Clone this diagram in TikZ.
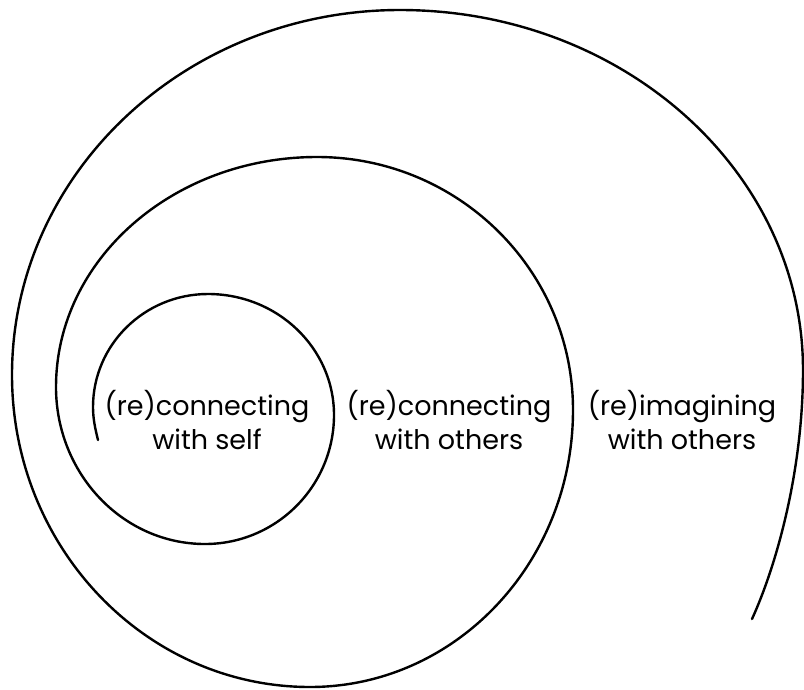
\documentclass[tikz,border=0pt]{standalone}
\usepackage{fontspec}
\setmainfont{Poppins}
\begin{document}
\begin{tikzpicture}[x=1pt,y=-1pt,
  spiral/.style={draw=black,line width=2.4pt,line cap=round},
  label/.style={align=center,font=\fontsize{27}{34}\selectfont,inner sep=0pt}]
\useasboundingbox (0,0) rectangle (804,689);
% turning points of the spiral (left, top, right, bottom extremes)
\coordinate (s)  at (98,440);
\coordinate (l1) at (93,407);
\coordinate (t1) at (208,294);
\coordinate (r1) at (334,415);
\coordinate (b1) at (205,544);
\coordinate (l2) at (56,387);
\coordinate (t2) at (317,157);
\coordinate (r2) at (573,410);
\coordinate (b2) at (310,687);
\coordinate (l3) at (12,375);
\coordinate (t3) at (400,10);
\coordinate (r3) at (803,370);
\coordinate (e)  at (752,619);
% the spiral, built from quarter-ellipse arcs
\draw[spiral] (s)
  .. controls (95,428) and (93,418) .. (l1)
  .. controls (93,344.7) and (144.5,294) .. (t1)
  .. controls (277.6,294) and (334,348.2) .. (r1)
  .. controls (334,486.2) and (276.2,544) .. (b1)
  .. controls (122.7,544) and (56,473.7) .. (l2)
  .. controls (56,260) and (172.9,157) .. (t2)
  .. controls (458.4,157) and (573,270.3) .. (r2)
  .. controls (573,563) and (455.3,687) .. (b2)
  .. controls (145.4,687) and (12,547.3) .. (l3)
  .. controls (12,173.4) and (185.7,10) .. (t3)
  .. controls (622.6,10) and (803,171.2) .. (r3)
  .. controls (803,470) and (777,564) .. (e);
% labels of the three turns
\node[label] (self)    at (207,420) {(re)connecting\\with self};
\node[label] (others)  at (449,420) {(re)connecting\\with others};
\node[label] (imagine) at (682,420) {(re)imagining\\with others};
\end{tikzpicture}
\end{document}
